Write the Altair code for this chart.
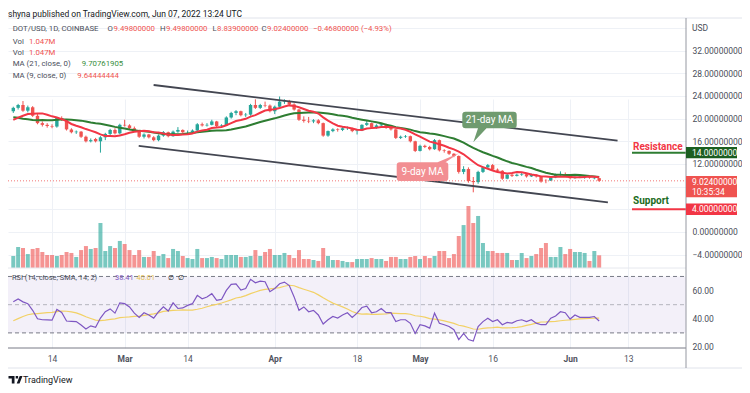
import altair as alt
import pandas as pd

FONT = "Roboto"
UP, DOWN = "#26a69a", "#ef5350"

# ---------------- data (DOT/USD daily, Feb 6 - Jun 7 2022) ----------------
opens = [21.3, 21.9, 22.4, 21.4, 22.0, 20.5, 19.2, 18.9, 18.7, 18.6,
         20.1, 19.8, 18.1, 17.6, 17.7, 16.8, 16.0, 16.4, 16.0, 16.7,
         17.3, 18.0, 17.4, 18.9, 18.8, 18.3, 17.9, 16.8, 17.2, 16.7,
         16.2, 17.0, 17.6, 16.9, 17.7, 18.0, 17.6, 17.6, 17.9, 19.0,
         18.8, 18.9, 19.5, 18.7, 18.8, 20.2, 21.0, 21.3, 20.6, 20.7,
         22.4, 21.9, 22.4, 22.3, 21.3, 22.1, 23.0, 23.1, 22.5, 21.6,
         19.8, 19.6, 19.5, 19.7, 19.2, 17.0, 17.8, 18.1, 18.0, 18.3,
         18.3, 17.8, 17.9, 18.9, 19.2, 18.4, 18.8, 19.0, 18.4, 18.1,
         16.6, 16.8, 16.9, 16.0, 14.3, 15.2, 15.0, 14.6, 16.2, 14.4,
         14.3, 13.8, 13.4, 10.6, 11.1, 9.0, 8.8, 10.6, 11.4, 11.8,
         11.0, 10.8, 9.4, 10.1, 9.9, 10.1, 10.2, 9.8, 10.1, 9.8,
         9.1, 9.07, 9.6, 10.1, 10.2, 10.0, 9.5, 9.6, 9.55, 9.7,
         9.45, 9.498]
highs = [22.1, 22.6, 23.1, 22.3, 22.2, 20.8, 19.5, 19.2, 19.0, 20.3,
         20.4, 19.9, 18.3, 17.9, 17.8, 17.0, 16.5, 16.6, 16.9, 17.5,
         18.2, 18.3, 19.1, 19.8, 19.0, 18.6, 18.0, 17.4, 17.3, 16.9,
         17.2, 17.8, 17.7, 17.9, 18.5, 18.1, 17.9, 18.1, 19.2, 19.3,
         19.2, 19.8, 19.6, 19.0, 20.4, 21.2, 21.5, 21.4, 21.0, 22.6,
         23.4, 22.6, 23.0, 22.5, 22.3, 23.9, 23.4, 23.3, 22.7, 21.7,
         20.4, 20.3, 19.9, 19.9, 19.3, 17.9, 18.3, 18.3, 18.5, 18.6,
         18.4, 18.0, 19.0, 19.6, 19.3, 19.0, 19.2, 19.1, 18.5, 18.2,
         17.0, 17.1, 17.0, 16.1, 15.4, 15.4, 15.2, 16.4, 16.3, 14.6,
         14.4, 13.9, 13.5, 11.6, 11.4, 9.7, 10.8, 11.6, 12.0, 12.0,
         11.2, 10.9, 10.3, 10.3, 10.3, 10.4, 10.3, 10.3, 10.2, 9.9,
         9.3, 9.7, 10.3, 10.7, 10.5, 10.2, 9.8, 9.9, 9.9, 9.8,
         9.7, 9.498]
lows = [21.0, 21.6, 21.2, 21.1, 20.3, 19.0, 18.6, 18.4, 18.3, 18.4,
        19.6, 17.9, 17.4, 17.3, 16.6, 15.8, 15.8, 15.8, 14.0, 16.2,
        17.0, 17.2, 17.2, 18.6, 18.1, 17.7, 16.6, 16.5, 16.5, 16.0,
        16.0, 16.8, 16.7, 16.8, 17.5, 17.4, 17.3, 17.4, 17.8, 18.6,
        18.6, 18.8, 18.4, 18.5, 18.7, 20.0, 20.6, 20.4, 20.3, 20.5,
        21.7, 21.7, 22.0, 21.1, 20.8, 22.0, 22.6, 22.3, 21.4, 19.6,
        19.3, 19.2, 19.2, 19.0, 16.8, 16.8, 17.6, 17.7, 17.8, 18.0,
        17.6, 17.2, 17.8, 18.7, 18.2, 18.2, 18.5, 18.2, 17.9, 16.4,
        16.4, 16.6, 15.8, 14.1, 14.2, 14.8, 14.4, 14.5, 14.2, 14.0,
        13.6, 13.2, 10.3, 10.2, 8.7, 7.0, 8.5, 10.4, 11.1, 10.9,
        10.5, 9.2, 9.3, 9.7, 9.8, 9.9, 9.6, 9.7, 9.6, 8.7,
        8.6, 9.0, 9.5, 9.9, 9.8, 9.3, 9.4, 9.5, 9.4, 9.4,
        9.3, 8.839]
closes = [21.9, 22.4, 21.4, 22.0, 20.5, 19.2, 18.9, 18.7, 18.6, 20.1,
          19.8, 18.1, 17.6, 17.7, 16.8, 16.0, 16.2, 16.0, 16.7, 17.3,
          18.0, 17.4, 18.9, 18.8, 18.3, 17.9, 16.8, 17.2, 16.7, 16.2,
          17.0, 17.6, 16.9, 17.7, 18.0, 17.6, 17.6, 17.9, 19.0, 18.8,
          18.9, 19.5, 18.7, 18.8, 20.2, 21.0, 21.3, 20.6, 20.7, 22.4,
          21.9, 22.4, 22.3, 21.3, 22.1, 23.0, 23.1, 22.5, 21.6, 19.8,
          19.6, 19.5, 19.7, 19.2, 17.0, 17.8, 18.1, 18.0, 18.3, 18.3,
          17.8, 17.9, 18.9, 19.2, 18.4, 18.8, 19.0, 18.4, 18.1, 16.6,
          16.8, 16.9, 16.0, 14.3, 15.2, 15.0, 14.6, 16.2, 14.4, 14.3,
          13.8, 13.4, 10.6, 11.1, 9.0, 8.8, 10.6, 11.4, 11.8, 11.0,
          10.8, 9.4, 10.1, 9.9, 10.1, 10.2, 9.8, 10.1, 9.8, 8.9,
          9.07, 9.6, 10.1, 10.2, 10.0, 9.5, 9.6, 9.77, 9.6, 9.6,
          9.498, 9.024]
volumes_m = [0.99, 1.73, 1.65, 1.15, 1.57, 1.65, 1.32, 1.07, 1.07, 0.99,
             1.07, 1.32, 1.24, 0.91, 1.48, 1.81, 1.57, 1.65, 3.71, 1.40,
             1.81, 1.65, 2.23, 1.98, 1.48, 1.07, 1.48, 0.91, 0.91, 1.40,
             0.99, 1.15, 0.82, 1.57, 1.40, 0.99, 0.82, 0.74, 1.57, 0.82,
             0.82, 0.91, 0.82, 0.74, 1.07, 1.07, 1.07, 0.91, 0.91, 0.99,
             1.48, 0.99, 1.32, 1.57, 1.07, 1.07, 1.24, 1.07, 0.82, 1.48,
             0.74, 0.74, 0.66, 0.58, 1.65, 0.99, 0.66, 0.66, 0.58, 0.49,
             0.49, 0.74, 0.74, 0.74, 0.82, 0.74, 0.74, 0.58, 0.91, 0.91,
             0.74, 0.74, 0.91, 0.99, 0.74, 0.99, 0.82, 0.99, 1.40, 1.40,
             0.82, 1.15, 2.64, 3.54, 5.11, 3.71, 4.29, 2.06, 1.40, 1.40,
             1.24, 1.24, 1.24, 0.66, 0.66, 1.24, 0.82, 0.99, 1.15, 1.65,
             2.06, 0.91, 0.91, 1.73, 1.15, 1.57, 1.32, 1.32, 1.24, 0.58,
             1.40, 1.047]
rsi_values = [52.1, 54.0, 52.0, 50.7, 46.0, 40.0, 39.3, 39.2, 39.0, 46.6,
              44.5, 38.4, 38.2, 38.0, 35.6, 32.8, 35.0, 34.0, 40.5, 45.0,
              47.0, 44.0, 51.3, 50.7, 48.4, 44.0, 41.0, 44.3, 42.7, 40.5,
              45.0, 48.5, 45.5, 51.3, 47.3, 47.7, 49.5, 50.7, 56.6, 54.2,
              55.4, 57.8, 53.0, 53.7, 60.1, 64.4, 64.8, 60.4, 61.4, 68.0,
              65.5, 66.7, 66.3, 59.2, 61.5, 64.8, 66.0, 63.5, 55.5, 46.0,
              48.4, 45.0, 46.0, 42.7, 36.3, 39.3, 41.6, 40.5, 42.7, 44.3,
              41.0, 44.0, 48.0, 49.0, 44.3, 45.0, 47.3, 44.3, 44.3, 38.0,
              39.3, 39.3, 36.8, 29.6, 35.8, 35.0, 33.4, 44.0, 36.8, 35.8,
              34.5, 32.3, 25.3, 29.6, 25.3, 24.2, 34.5, 38.0, 40.4, 38.0,
              39.3, 35.8, 37.4, 36.9, 38.6, 39.3, 38.0, 39.3, 36.9, 35.8,
              35.8, 40.4, 42.0, 45.0, 44.3, 39.8, 42.7, 41.0, 41.0, 41.0,
              41.6, 38.41]
# closes / RSI before the visible window (seed the moving averages)
seed_closes = [24.5, 25.0, 24.0, 22.8, 20.0, 18.3, 19.3, 18.9, 18.5, 18.5,
               18.3, 18.7, 18.9, 18.5, 19.2, 19.9, 18.9, 18.8, 20.8, 21.2]
rsi_seed = [33, 30, 34, 38, 36, 35, 34, 37, 39, 38, 41, 45, 48]

tick_days = [8, 23, 36, 54, 71, 84, 99, 115, 127]
tick_labels = ["14", "Mar", "14", "Apr", "18", "May", "16", "Jun", "13"]
month_days = [23, 54, 84, 115]
price_ticks = [-4, 0, 4, 8, 12, 16, 20, 24, 28, 32, 36]
hidden_price_labels = [4, 8, 36]
rsi_ticks = [20, 40, 60]
rsi_levels = [70, 30]
rsi_mid = [50]

channel_k = [28.98, 124.8, 25.9, 122.8]
channel_p = [25.93, 16.1, 15.2, 5.24]
channel_id = ["upper", "upper", "lower", "lower"]

resistance = 14.0
support = 4.0
last_close = 9.024

# ---------------- frames ----------------
n = len(closes)
dates = pd.date_range("2022-02-06", periods=n, freq="D").strftime("%Y-%m-%d").tolist()
candles = pd.DataFrame({"k": list(range(n)), "date": dates, "open": opens, "high": highs,
                        "low": lows, "close": closes, "vol": volumes_m})
ma_src = pd.DataFrame({"k": list(range(-len(seed_closes), n)), "close": seed_closes + closes})
rsi_src = pd.DataFrame({"k": list(range(-len(rsi_seed), n)), "rsi": rsi_seed + rsi_values})
channel = pd.DataFrame({"k": channel_k, "p": channel_p, "line": channel_id})
one = pd.DataFrame({"a": [0]})

# ---------------- layout ----------------
W, H = 678, 329
PRICE_DOM, PRICE_RNG = [-6.35, 37.57], [249, 0]
VOL_DOM = [0, 20.53]
RSI_DOM, RSI_RNG = [19.29, 76.0], [329, 249]
LBL = "#4a4e59"
LEG = 7.8


def ps():
    return alt.Scale(domain=PRICE_DOM, range=PRICE_RNG, nice=False, zero=False)


def rs():
    return alt.Scale(domain=RSI_DOM, range=RSI_RNG, nice=False, zero=False)


def arr(v):
    return "[" + ",".join(str(d) for d in v) + "]"


label_expr = "[" + ",".join(f"'{t}'" for t in tick_labels) + "][indexof(" + arr(tick_days) + ", datum.value)]"
xaxis = alt.Axis(values=tick_days, labelExpr=label_expr, grid=True, gridColor="#eef1f6",
                 domain=False, ticks=False, tickSize=0, labelPadding=6, labelColor="#50535e",
                 labelFontSize=8.5, labelFont=FONT, labelFlush=False, labelOverlap=False,
                 labelFontWeight={"condition": {"test": "indexof(" + arr(month_days) + ", datum.value) >= 0",
                                                "value": "bold"}, "value": "normal"})
xs = alt.Scale(domain=[-0.06, 137.9], nice=False, zero=False)


def X():
    return alt.X("k:Q", scale=xs, axis=xaxis, title=None)


price_axis = alt.Axis(orient="right", values=price_ticks,
                      labelExpr="indexof(" + arr(hidden_price_labels) + ", datum.value) >= 0 ? '' : format(datum.value, '.8f')",
                      grid=True, gridColor="#eef1f6",
                      domain=False, ticks=False, tickSize=0, labelPadding=6, labelColor=LBL,
                      labelFontSize=8.5, labelFont=FONT, labelFlush=False, labelAlign="left")
rsi_axis = alt.Axis(orient="right", values=rsi_ticks, format=".2f", grid=False, domain=False,
                    ticks=False, tickSize=0, labelPadding=6, labelColor=LBL, labelFontSize=8.5,
                    labelFont=FONT, labelFlush=False, labelAlign="left")

color_cond = alt.condition("datum.close >= datum.open", alt.value(UP), alt.value(DOWN))


def txt(s, x, y, color=LBL, size=LEG, weight="normal", align="left"):
    return alt.Chart(one).mark_text(text=s, align=align, baseline="middle", font=FONT, fontSize=size,
                                    fontWeight=weight, color=color).encode(x=alt.value(x), y=alt.value(y))


def ptxt(s, price, x, color, size=8.5, weight="normal", dy=0):
    return alt.Chart(pd.DataFrame({"p": [price]})).mark_text(
        text=s, align="left", baseline="middle", font=FONT, fontSize=size, fontWeight=weight,
        color=color, dy=dy).encode(x=alt.value(x), y=alt.Y("p:Q", scale=ps(), axis=None))


def pbox(price, top, bottom, color):
    path = f"M0,{top} L51,{top} L51,{bottom} L0,{bottom} Z"
    return alt.Chart(pd.DataFrame({"p": [price]})).mark_point(
        shape=path, size=4, filled=True, opacity=1, color=color).encode(
        x=alt.value(W), y=alt.Y("p:Q", scale=ps(), axis=None))


def hrule(x, x2, y, color, width=1):
    return alt.Chart(one).mark_rule(color=color, strokeWidth=width).encode(
        x=alt.value(x), x2=alt.value(x2), y=alt.value(y))


layers = []

# RSI pane background band and level lines
band = alt.Chart(pd.DataFrame({"hi": [70], "lo": [30]})).mark_rect(color="#7e57c2", opacity=0.09).encode(
    x=alt.value(0), x2=alt.value(W), y=alt.Y("hi:Q", scale=rs(), axis=None), y2="lo:Q")
lv = alt.Chart(pd.DataFrame({"r": rsi_levels})).mark_rule(color="#787b86", strokeDash=[4, 3], strokeWidth=1).encode(
    x=alt.value(0), x2=alt.value(W), y=alt.Y("r:Q", scale=rs(), axis=None))
mid = alt.Chart(pd.DataFrame({"r": rsi_mid})).mark_rule(color="#787b86", strokeDash=[4, 3], strokeWidth=1, opacity=0.5).encode(
    x=alt.value(0), x2=alt.value(W), y=alt.Y("r:Q", scale=rs(), axis=None))
layers += [band, lv, mid]

# volume
vol = alt.Chart(candles).mark_bar(size=4, opacity=0.62).encode(
    x=X(), y=alt.Y("vol:Q", scale=alt.Scale(domain=VOL_DOM, range=[249, 0], nice=False, zero=True), axis=None),
    color=color_cond)
layers.append(vol)

# candles
wicks = alt.Chart(candles).mark_rule(strokeWidth=1).encode(
    x=X(), y=alt.Y("low:Q", scale=ps(), axis=None), y2="high:Q", color=color_cond)
bodies = alt.Chart(candles).mark_bar(size=3.4).encode(
    x=X(), y=alt.Y("open:Q", scale=ps(), axis=price_axis, title=None), y2="close:Q", color=color_cond)
layers += [wicks, bodies]

# moving averages
srt = [alt.SortField("k", order="ascending")]
ma = alt.Chart(ma_src).transform_window(ma9="mean(close)", frame=[-8, 0], sort=srt).transform_window(
    ma21="mean(close)", frame=[-20, 0], sort=srt).transform_filter("datum.k >= 0")
layers.append(ma.mark_line(color="#2e7d32", strokeWidth=2).encode(x=X(), y=alt.Y("ma21:Q", scale=ps(), axis=None)))
layers.append(ma.mark_line(color="#f23645", strokeWidth=2).encode(x=X(), y=alt.Y("ma9:Q", scale=ps(), axis=None)))

# channel lines
layers.append(alt.Chart(channel).mark_line(color="#434651", strokeWidth=1.8).encode(
    x=X(), y=alt.Y("p:Q", scale=ps(), axis=None), detail="line:N"))

# last close dotted line
layers.append(alt.Chart(pd.DataFrame({"p": [last_close]})).mark_rule(
    color="#ef5350", strokeDash=[1, 2], strokeWidth=1, opacity=0.8).encode(
    x=alt.value(0), x2=alt.value(W), y=alt.Y("p:Q", scale=ps(), axis=None)))

# RSI lines
rsi_base = alt.Chart(rsi_src).transform_window(sma="mean(rsi)", frame=[-13, 0], sort=srt).transform_filter("datum.k >= 0")
layers.append(rsi_base.mark_line(color="#f2d166", strokeWidth=1.2).encode(x=X(), y=alt.Y("sma:Q", scale=rs(), axis=None)))
layers.append(rsi_base.mark_line(color="#7e57c2", strokeWidth=1.2).encode(x=X(), y=alt.Y("rsi:Q", scale=rs(), axis=rsi_axis, title=None)))

# resistance / support
layers.append(alt.Chart(pd.DataFrame({"p": [resistance]})).mark_rule(color="#2e7d32", strokeWidth=2).encode(
    x=alt.value(624), x2=alt.value(W), y=alt.Y("p:Q", scale=ps(), axis=None)))
layers.append(alt.Chart(pd.DataFrame({"p": [support]})).mark_rule(color="#f23645", strokeWidth=2).encode(
    x=alt.value(624), x2=alt.value(W), y=alt.Y("p:Q", scale=ps(), axis=None)))
layers.append(ptxt("Resistance", resistance, 625, "#f23645", size=10, weight="bold", dy=-6))
layers.append(ptxt("Support", support, 625, "#1b6b22", size=10, weight="bold", dy=-8))

# frame / separators
layers.append(hrule(0, 734, -1, "#e0e3eb"))
layers.append(hrule(0, 734, 349, "#e0e3eb"))
layers.append(hrule(0, W, 249, "#e6e8ee"))
layers.append(hrule(0, W, 329, "#787b86"))
layers.append(alt.Chart(one).mark_rule(color="#9598a1", strokeWidth=1).encode(
    x=alt.value(W), y=alt.value(-1), y2=alt.value(349)))

# price-scale boxes
layers.append(pbox(resistance, -5.7, 5.7, "#1b5e20"))
layers.append(pbox(last_close, -4.8, 16.5, "#ef5350"))
layers.append(pbox(support, -5.8, 5.8, "#f23645"))
layers.append(ptxt("14.00000000", resistance, 684, "white"))
layers.append(ptxt("9.02400000", last_close, 684, "white", dy=1.5))
layers.append(ptxt("10:35:34", last_close, 684, "white", dy=11))
layers.append(ptxt("4.00000000", support, 684, "white"))
layers.append(txt("USD", 684, 9, size=8.5))

# callouts
p21 = ("M-24,-8.3 L24,-8.3 Q27.2,-8.3 27.2,-5 L27.2,5 Q27.2,8.3 24,8.3 L-3,8.3 L-16.2,22.3 "
       "L-11.5,8.3 L-24,8.3 Q-27.2,8.3 -27.2,5 L-27.2,-5 Q-27.2,-8.3 -24,-8.3 Z")
p9 = ("M-22.8,-9.35 L15,-9.35 L36.5,-18.4 L23,-9.35 Q25.8,-9.35 25.8,-6.35 L25.8,6.35 "
      "Q25.8,9.35 22.8,9.35 L-22.8,9.35 Q-25.8,9.35 -25.8,6.35 L-25.8,-6.35 Q-25.8,-9.35 -22.8,-9.35 Z")
layers.append(alt.Chart(one).mark_point(shape=p21, size=4, filled=True, opacity=1, color="#6f9b6f").encode(
    x=alt.value(481.5), y=alt.value(101)))
layers.append(txt("21-day MA", 481.5, 101, "white", size=10, align="center"))
layers.append(alt.Chart(one).mark_point(shape=p9, size=4, filled=True, opacity=1, color="#f28e92").encode(
    x=alt.value(414.5), y=alt.value(152.7)))
layers.append(txt("9-day MA", 414.5, 152.7, "white", size=10, align="center"))

# legend texts
RED, GRN = "#ef5350", "#388e3c"
layers += [
    txt("shyna published on TradingView.com, Jun 07, 2022 13:24 UTC", 0, -5, "#131722", size=8.5),
    txt("DOT/USD, 1D, COINBASE", 4.7, 10.3),
    txt("O", 99.5, 10.3), txt("9.49800000", 105.5, 10.3, RED),
    txt("H", 152, 10.3), txt("9.49800000", 158, 10.3, RED),
    txt("L", 204.5, 10.3), txt("8.83900000", 209, 10.3, RED),
    txt("C", 253.5, 10.3), txt("9.02400000", 259, 10.3, RED),
    txt("\u22120.46800000 (\u22124.93%)", 305, 10.3, RED),
    txt("Vol", 4.7, 22.7), txt("1.047M", 21, 22.7, RED),
    txt("Vol", 4.7, 33.7), txt("1.047M", 21, 33.7, RED),
    txt("MA (21, close, 0)", 4.7, 45), txt("9.70761905", 73.7, 45, GRN),
    txt("MA (9, close, 0)", 4.7, 57), txt("9.64444444", 69.3, 57, RED),
    txt("RSI (14, close, SMA, 14, 2)", 4, 259.3, size=7.4), txt("38.41", 107, 259.3, "#7e57c2", size=7.4),
    txt("40.01", 128.6, 259.3, "#e8c14f", size=7.4), txt("\u2205", 159.7, 259.3, "#131722", size=7.4),
    txt("\u2205", 170, 259.3, "#131722", size=7.4),
    txt("TradingView", 15, 361, "#131722", size=9),
]
logo = "M0,0 L6,0 L6,7.5 L3.3,7.5 L3.3,2.6 L0,2.6 Z M7.2,0 L9.6,0 L9.6,2.4 L7.2,2.4 Z M11.2,0 L14,0 L11,7.5 L8.2,7.5 Z"
layers.append(alt.Chart(one).mark_point(shape=logo, size=4, filled=True, opacity=1, color="#131722").encode(
    x=alt.value(0.5), y=alt.value(357)))

chart = alt.layer(*layers).resolve_scale(y="independent").properties(
    width=W, height=H,
    autosize=alt.AutoSizeParams(type="none"),
    padding={"left": 0, "top": 11, "right": 56, "bottom": 37},
    background="white",
).configure_view(stroke=None)

chart.save("out.html", embed_options={"renderer": "svg", "actions": False})
